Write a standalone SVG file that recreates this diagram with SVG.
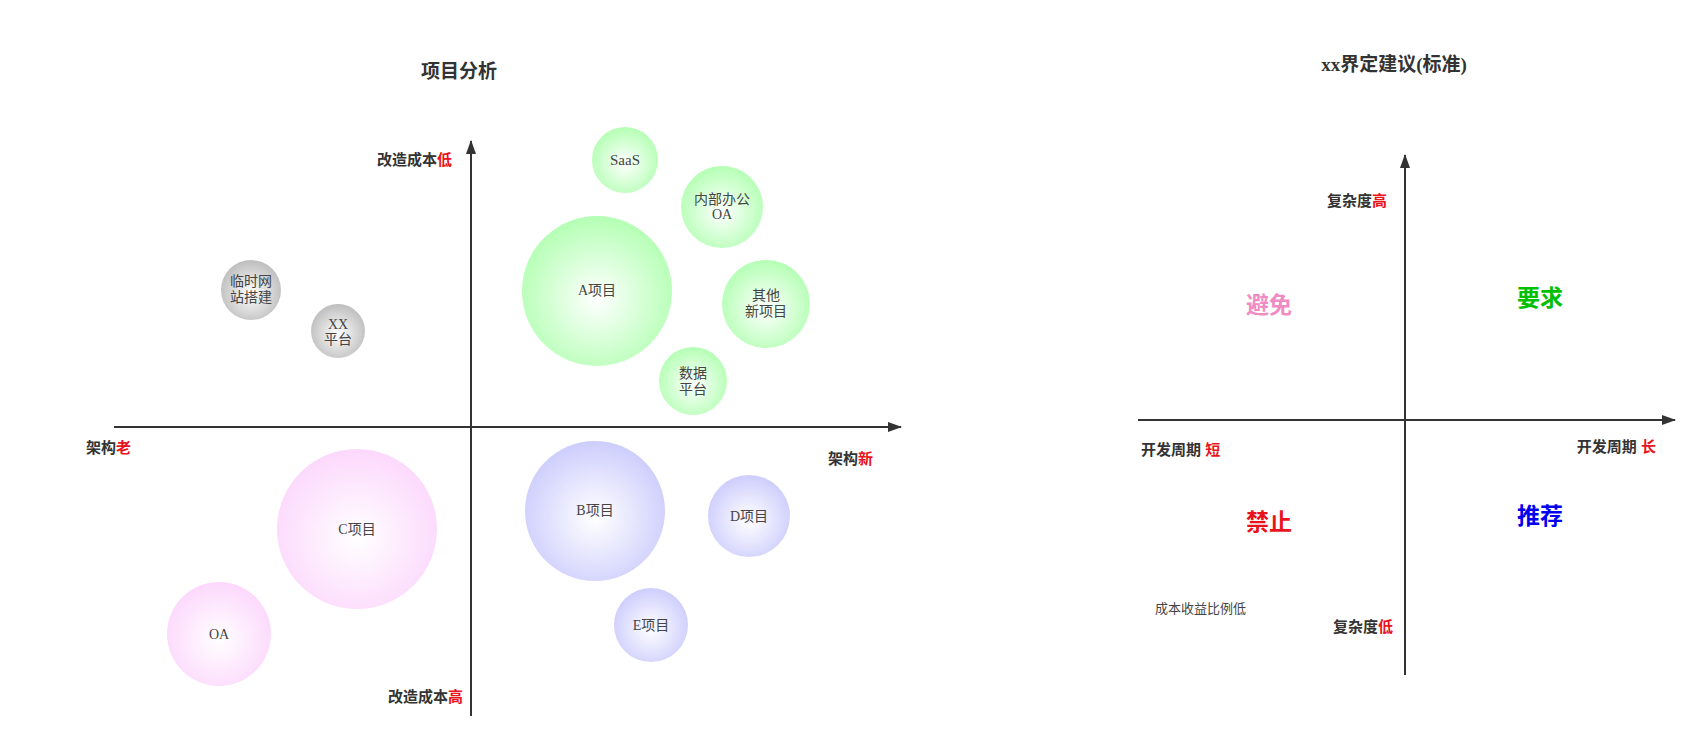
<svg xmlns="http://www.w3.org/2000/svg" width="1708" height="748" viewBox="0 0 1708 748">
<style>
.ax{stroke:#333;stroke-width:2;fill:none}
.lb{font-family:"Liberation Sans","Noto Sans CJK SC",sans-serif;font-weight:bold;font-size:15px;fill:#333}
.r{fill:#e8131b}
.tt{font-family:"Liberation Serif","Noto Sans CJK SC",serif;font-weight:bold;font-size:19px;fill:#333;text-anchor:middle}
.bt{font-family:"Liberation Serif","Noto Sans CJK SC",serif;font-size:14px;fill:#444;text-anchor:middle}
.q{font-family:"Liberation Sans","Noto Sans CJK SC",sans-serif;font-weight:bold;font-size:23px;text-anchor:middle}
</style>
<defs>
<radialGradient id="g" cx="50%" cy="55%" r="55%"><stop offset="0" stop-color="#fff"/><stop offset="1" stop-color="#b4ffb4"/></radialGradient>
<radialGradient id="k" cx="50%" cy="55%" r="55%"><stop offset="0" stop-color="#fff"/><stop offset="1" stop-color="#bdbdbd"/></radialGradient>
<radialGradient id="p" cx="50%" cy="55%" r="55%"><stop offset="0" stop-color="#fff"/><stop offset="1" stop-color="#fcd8fc"/></radialGradient>
<radialGradient id="b" cx="50%" cy="55%" r="55%"><stop offset="0" stop-color="#fff"/><stop offset="1" stop-color="#cdcdfd"/></radialGradient>
<marker id="a" markerWidth="14" markerHeight="10" refX="13" refY="5" orient="auto" markerUnits="userSpaceOnUse"><path d="M0,0 L14,5 L0,10 Z" fill="#333"/></marker>
</defs>
<text class="tt" x="459" y="78">项目分析</text>
<text class="tt" x="1394" y="71">xx界定建议(标准)</text>
<g id="connectors">
<line class="ax" x1="471" y1="716" x2="471" y2="141" marker-end="url(#a)"/>
<line class="ax" x1="114" y1="427" x2="901" y2="427" marker-end="url(#a)"/>
<line class="ax" x1="1405" y1="675" x2="1405" y2="155" marker-end="url(#a)"/>
<line class="ax" x1="1138" y1="420" x2="1675" y2="420" marker-end="url(#a)"/>
</g>
<g id="labels">
<text class="lb" x="452" y="165" text-anchor="end">改造成本<tspan class="r">低</tspan></text>
<text class="lb" x="463" y="702" text-anchor="end">改造成本<tspan class="r">高</tspan></text>
<text class="lb" x="86" y="453">架构<tspan class="r">老</tspan></text>
<text class="lb" x="828" y="464">架构<tspan class="r">新</tspan></text>
<text class="lb" x="1387" y="206" text-anchor="end">复杂度<tspan class="r">高</tspan></text>
<text class="lb" x="1393" y="632" text-anchor="end">复杂度<tspan class="r">低</tspan></text>
<text class="lb" x="1141" y="455">开发周期 <tspan class="r">短</tspan></text>
<text class="lb" x="1656" y="452" text-anchor="end">开发周期 <tspan class="r">长</tspan></text>
<text x="1155" y="613" style="font-family:'Liberation Sans','Noto Sans CJK SC',sans-serif;font-size:13px;fill:#444">成本收益比例低</text>
<text class="q" x="1269" y="313" fill="#f08cc4">避免</text>
<text class="q" x="1540" y="306" fill="#00c000">要求</text>
<text class="q" x="1269" y="530" fill="#e8131b">禁止</text>
<text class="q" x="1540" y="524" fill="#0000ee">推荐</text>
</g>
<g id="saas"><circle cx="625" cy="160" r="33" fill="url(#g)"/><text class="bt" x="625" y="165" style="font-size:15px">SaaS</text></g>
<g id="oa-internal"><circle cx="722" cy="207" r="41" fill="url(#g)"/><text class="bt" x="722" y="204">内部办公</text><text class="bt" x="722" y="219">OA</text></g>
<g id="a-proj"><circle cx="597" cy="291" r="75" fill="url(#g)"/><text class="bt" x="597" y="295">A项目</text></g>
<g id="other"><circle cx="766" cy="304" r="44" fill="url(#g)"/><text class="bt" x="766" y="300">其他</text><text class="bt" x="766" y="316">新项目</text></g>
<g id="data"><circle cx="693" cy="381" r="34" fill="url(#g)"/><text class="bt" x="693" y="378">数据</text><text class="bt" x="693" y="394">平台</text></g>
<g id="temp"><circle cx="251" cy="290" r="30" fill="url(#k)"/><text class="bt" x="251" y="286">临时网</text><text class="bt" x="251" y="302">站搭建</text></g>
<g id="xx"><circle cx="338" cy="331" r="27" fill="url(#k)"/><text class="bt" x="338" y="329">XX</text><text class="bt" x="338" y="344">平台</text></g>
<g id="c-proj"><circle cx="357" cy="529" r="80" fill="url(#p)"/><text class="bt" x="357" y="534">C项目</text></g>
<g id="oa"><circle cx="219" cy="634" r="52" fill="url(#p)"/><text class="bt" x="219" y="639">OA</text></g>
<g id="b-proj"><circle cx="595" cy="511" r="70" fill="url(#b)"/><text class="bt" x="595" y="515">B项目</text></g>
<g id="d-proj"><circle cx="749" cy="516" r="41" fill="url(#b)"/><text class="bt" x="749" y="521">D项目</text></g>
<g id="e-proj"><circle cx="651" cy="625" r="37" fill="url(#b)"/><text class="bt" x="651" y="630">E项目</text></g>
</svg>
